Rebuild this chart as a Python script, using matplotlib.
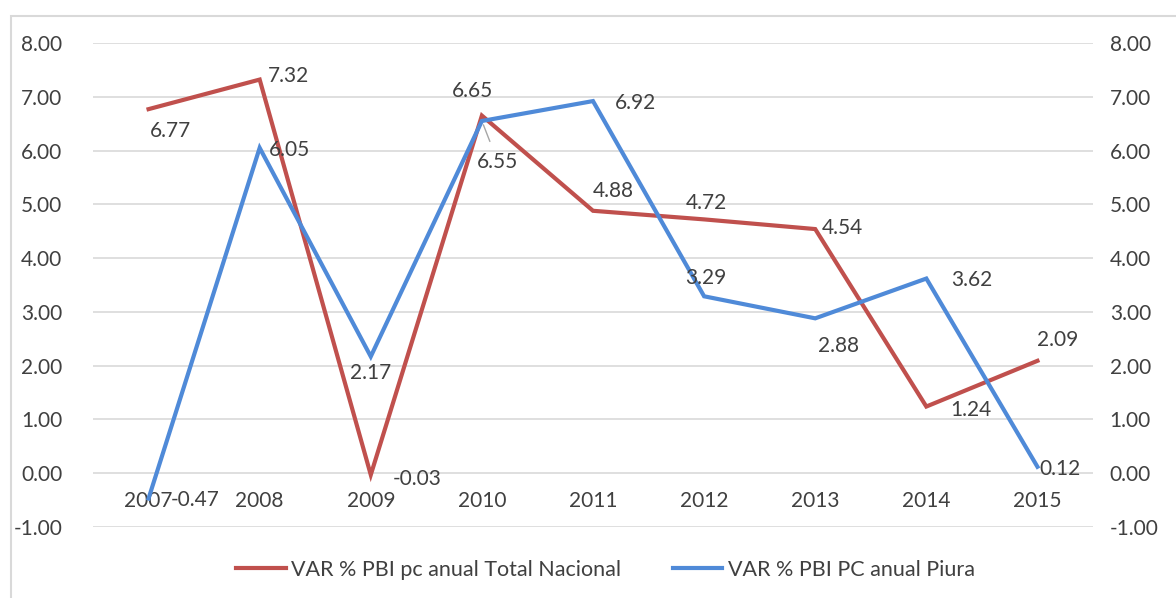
import matplotlib.pyplot as plt
from matplotlib.patches import Rectangle

plt.rcParams['font.family'] = ['Lato', 'DejaVu Sans']

years = ['2007', '2008', '2009', '2010', '2011', '2012', '2013', '2014', '2015']
nacional = [6.77, 7.32, -0.03, 6.65, 4.88, 4.72, 4.54, 1.24, 2.09]
piura = [-0.47, 6.05, 2.17, 6.55, 6.92, 3.29, 2.88, 3.62, 0.12]
yticks = [-1, 0, 1, 2, 3, 4, 5, 6, 7, 8]

# label offsets in pixels (dx, dy), picked to sit like the Excel labels
red_off = [(22, -22), (29, 4), (46, -4), (-9, 25), (20, 20), (2, 16), (27, 1), (45, -3), (20, 21)]
blue_off = [(47, -2), (30, -2), (0, -16), (16, -41), (42, -2), (2, 18), (23, -28), (45, -1), (23, -2)]

red = '#C0504D'
blue = '#4F8AD8'
txt = '#404040'
fs = 15

fig = plt.figure(figsize=(11.76, 5.98), dpi=100)
# chart area border, only its top and left edges fall inside the picture
fig.patches.append(Rectangle((11 / 1176, -0.1), 1.2, 1.1 - 16 / 598,
                             transform=fig.transFigure, fill=False,
                             edgecolor='#D9D9D9', lw=1.5))

ax = fig.add_axes([93 / 1176, 71 / 598, 1000 / 1176, 484 / 598])
ax2 = ax.twinx()
x = list(range(len(years)))

for a in (ax, ax2):
    a.set_xlim(-0.5, len(years) - 0.5)
    a.set_ylim(-1, 8)
    a.set_yticks(yticks)
    a.set_yticklabels(['%.2f' % v for v in yticks], fontsize=fs, color=txt)
    a.tick_params(axis='y', length=0, pad=22)
    for s in ('left', 'right', 'top', 'bottom'):
        a.spines[s].set_visible(False)

ax.grid(axis='y', color='#D9D9D9', lw=1.2)
ax.set_axisbelow(True)
ax.spines['bottom'].set_position(('data', 0))
ax.set_xticks(x)
ax.set_xticklabels(years, fontsize=fs, color=txt)
ax.tick_params(axis='x', length=0, pad=13)
ax2.tick_params(axis='y', pad=12)

l1, = ax.plot(x, nacional, color=red, lw=3, solid_joinstyle='miter',
              label='VAR % PBI pc anual Total Nacional')
l2, = ax2.plot(x, piura, color=blue, lw=3, solid_joinstyle='miter',
               label='VAR % PBI PC anual Piura')

for i, v in enumerate(nacional):
    ax2.annotate('%.2f' % v, (i, v), xytext=red_off[i], textcoords='offset pixels',
                 ha='center', va='center', fontsize=fs, color=txt, zorder=5)
for i, v in enumerate(piura):
    props = None
    if i == 3:
        props = dict(arrowstyle='-', color='#A6A6A6', lw=1, shrinkA=6, shrinkB=3)
    ax2.annotate('%.2f' % v, (i, v), xytext=blue_off[i], textcoords='offset pixels',
                 ha='center', va='center', fontsize=fs, color=txt, zorder=5,
                 arrowprops=props)

fig.legend(handles=[l1, l2], loc='center', bbox_to_anchor=(0.515, 0.047), ncol=2,
           frameon=False, fontsize=15.5, labelcolor=txt, handlelength=2.3,
           columnspacing=2.4, handletextpad=0.25)

fig.savefig('out.png', dpi=100)
